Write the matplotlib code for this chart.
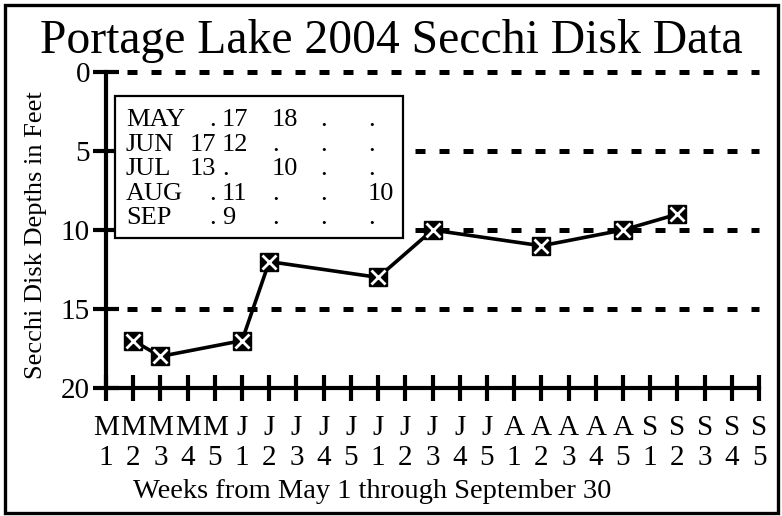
import matplotlib
matplotlib.use("Agg")
import matplotlib.pyplot as plt
from matplotlib.patches import Rectangle

# weekly sampling grid, May through September, five slots per month
months = ["MAY", "JUN", "JUL", "AUG", "SEP"]
week_nums = [1, 2, 3, 4, 5]

# secchi readings: week slot index (0 = May week 1) and depth in feet
obs_week = [1, 2, 5, 6, 10, 12, 16, 19, 21]
depth_ft = [17, 18, 17, 12, 13, 10, 11, 10, 9]

depth_ticks = [0, 5, 10, 15, 20]
grid_depths = [0, 5, 10, 15]

W, H = 782, 516
serif = ["Liberation Serif", "DejaVu Serif"]
plt.rcParams["font.family"] = serif


def px(x, y):
    """pixel position (from top-left) to figure fraction"""
    return x / W, 1 - y / H


fig = plt.figure(figsize=(W / 100, H / 100), dpi=100)
x0, y0 = 106, 72
x1, y1 = 759, 388
ax = fig.add_axes([x0 / W, 1 - y1 / H, (x1 - x0) / W, (y1 - y0) / H])

n_weeks = len(months) * len(week_nums)
ax.set_xlim(0, n_weeks - 1)
ax.set_ylim(20, 0)

for s in ["top", "right"]:
    ax.spines[s].set_visible(False)
for s in ["left", "bottom"]:
    ax.spines[s].set_linewidth(3)

ax.set_xticks(range(n_weeks))
ax.set_xticklabels([m[0] + "\n" + str(w) for m in months for w in week_nums],
                   fontsize=21, linespacing=1.22)
ax.set_yticks(depth_ticks)
ax.set_yticklabels([str(d) for d in depth_ticks], fontsize=21)
ax.tick_params(axis="both", direction="inout", length=19, width=3)
ax.tick_params(axis="x", pad=10)
ax.tick_params(axis="y", pad=2)

# dotted reference lines
for d in grid_depths:
    ax.axhline(d, xmin=0.032, xmax=1.0, color="black", lw=3.6,
               linestyle=(0, (2, 2.8)), clip_on=False, zorder=1)

ax.plot(obs_week, depth_ft, color="black", lw=2.6, zorder=3, clip_on=False)
ax.plot(obs_week, depth_ft, linestyle="none", marker="s", ms=13.5,
        mfc="black", mec="black", zorder=4, clip_on=False)
ax.plot(obs_week, depth_ft, linestyle="none", marker="x", ms=9.5,
        mec="white", mew=2, zorder=5, clip_on=False)

ax.set_ylabel("Secchi Disk Depths in Feet", fontsize=19)
ax.yaxis.set_label_coords(*ax.transAxes.inverted().transform(
    fig.transFigure.transform(px(47, 235))))
fig.text(*px(372, 491), "Weeks from May 1 through September 30",
         fontsize=20.5, ha="center", va="center")
fig.text(*px(391, 41), "Portage Lake 2004 Secchi Disk Data",
         fontsize=34.3, ha="center", va="center")

# summary table of readings by month and week, on a white box over the grid
ax.add_patch(Rectangle(px(115, 238), 288 / W, 142 / H, fill=True,
                       fc="white", lw=1.6, ec="black",
                       transform=fig.transFigure, clip_on=False, zorder=6))
readings = dict(zip(obs_week, depth_ft))
col_x = [216, 222, 272, 320, 368]
for r, m in enumerate(months):
    yb = 126 + r * 24.6
    fig.text(*px(126, yb), m, fontsize=19, va="baseline")
    for w in range(len(week_nums)):
        val = readings.get(r * len(week_nums) + w)
        txt = "." if val is None else str(val)
        ha = "right" if w == 0 else "left"
        fig.text(*px(col_x[w], yb), txt, fontsize=19, va="baseline", ha=ha)

# outer frame
fig.patches.append(Rectangle(px(5, 513), 773 / W, 508 / H, fill=False,
                             lw=2.4, ec="black", transform=fig.transFigure))

fig.savefig("out.png", dpi=100)
